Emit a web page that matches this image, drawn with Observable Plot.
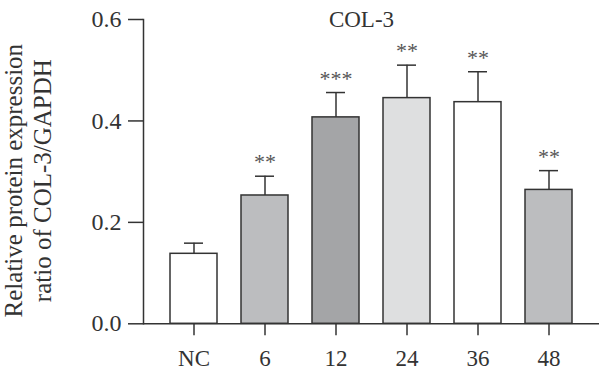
<!DOCTYPE html>
<html>
<head>
<meta charset="utf-8">
<script src="https://cdn.jsdelivr.net/npm/d3@7"></script>
<script src="https://cdn.jsdelivr.net/npm/@observablehq/plot@0.6"></script>
<style>
  html, body { margin: 0; padding: 0; background: #fff; }
</style>
</head>
<body>
<div id="chart"></div>
<script>
const title = "COL-3";
const yLabel = "Relative protein expression\nratio of COL-3/GAPDH";
const categories = ["NC", "6", "12", "24", "36", "48"];
const values = [0.138, 0.253, 0.407, 0.445, 0.437, 0.264];
const errors = [0.021, 0.038, 0.049, 0.065, 0.060, 0.038];
const stars = ["", "**", "***", "**", "**", "**"];
const fills = ["#ffffff", "#bcbdbf", "#a4a5a7", "#dedfe0", "#ffffff", "#bcbdbf"];
const yTicks = [0, 0.2, 0.4, 0.6];

const data = categories.map((c, i) => ({
  cat: c, value: values[i], top: values[i] + errors[i], star: stars[i], fill: fills[i]
}));

const ink = "#333";

const chart = Plot.plot({
  width: 600,
  height: 374,
  marginLeft: 143,
  marginRight: 1,
  marginTop: 19,
  marginBottom: 50.7,
  x: { domain: categories, padding: 0.336, label: null },
  y: { domain: [0, 0.6], label: null },
  style: { fontFamily: "'Liberation Serif', serif", fontSize: "23px", color: ink, background: "white" },
  marks: [
    Plot.barY(data, { x: "cat", y: "value", fill: "fill", stroke: ink, strokeWidth: 1.5 }),
    Plot.ruleX(data, { x: "cat", y1: "value", y2: "top", stroke: ink, strokeWidth: 1.5 }),
    Plot.tickY(data, { x: "cat", y: "top", stroke: ink, strokeWidth: 1.5, insetLeft: 14, insetRight: 14 }),
    Plot.text(data, { x: "cat", y: "top", text: "star", dy: -14, fill: "#555", fontSize: 22 }),
    Plot.ruleY([0], { stroke: ink, strokeWidth: 1.5 }),
    Plot.frame({ anchor: "left", stroke: ink, strokeWidth: 1.5 }),
    Plot.axisY({ ticks: yTicks, tickSize: 15, tickPadding: 7, tickFormat: d => d.toFixed(1), fontSize: 24, strokeWidth: 1.5, label: null }),
    Plot.axisX({ tickSize: 12, tickPadding: 14, fontSize: 23, strokeWidth: 1.5, label: null }),
    Plot.text([title], { frameAnchor: "top", dx: -10, dy: -9, fontSize: 23, fill: ink }),
    Plot.text([yLabel], { frameAnchor: "left", textAnchor: "middle", dx: -116, dy: 9, rotate: -90, lineHeight: 1.15, fontSize: 25, fill: ink })
  ]
});

document.getElementById("chart").appendChild(chart);
</script>
</body>
</html>
